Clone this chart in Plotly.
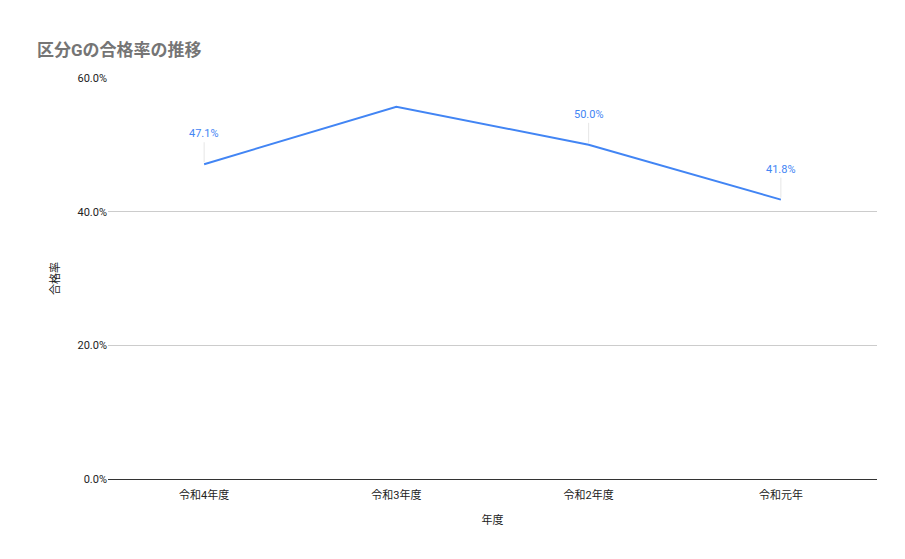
import plotly.graph_objects as go

years = ["令和4年度", "令和3年度", "令和2年度", "令和元年"]
rates = [0.471, 0.557, 0.500, 0.418]
labeled = [True, False, True, True]

fig = go.Figure(go.Scatter(
    x=years, y=rates, mode="lines",
    line=dict(color="#4285f4", width=2),
    hoverinfo="skip"
))

# data labels with small leader lines, like Google Sheets
for x, y, show in zip(years, rates, labeled):
    if show:
        fig.add_annotation(
            x=x, y=y, text=f"{y*100:.1f}%", showarrow=True, arrowhead=0,
            arrowwidth=1, arrowcolor="#e6e6e6", ax=0, ay=-22, standoff=2,
            yanchor="bottom", font=dict(color="#4285f4", size=11)
        )

font = "Roboto, Noto Sans CJK JP, sans-serif"
fig.update_layout(
    width=905, height=559,
    paper_bgcolor="white", plot_bgcolor="white",
    font=dict(family=font, size=11, color="#222"),
    title=dict(text="<b>区分Gの合格率の推移</b>", x=0.032, y=0.935,
               font=dict(size=17, color="#757575", family=font)),
    margin=dict(l=100, r=36, t=70, b=88),
    showlegend=False,
    xaxis=dict(title=dict(text="年度", font=dict(size=11)), showgrid=False,
               range=[-0.5, 3.5], showline=True, linecolor="#333",
               ticks="outside", ticklen=6, tickcolor="rgba(0,0,0,0)",
               tickfont=dict(size=11)),
    yaxis=dict(title=dict(text="合格率", font=dict(size=11)), range=[0, 0.6],
               tickvals=[0, 0.2, 0.4, 0.6], tickformat=".1%",
               gridcolor="#cccccc", zeroline=False, ticks="",
               tickfont=dict(size=11)),
)

fig.write_html("out.html")
